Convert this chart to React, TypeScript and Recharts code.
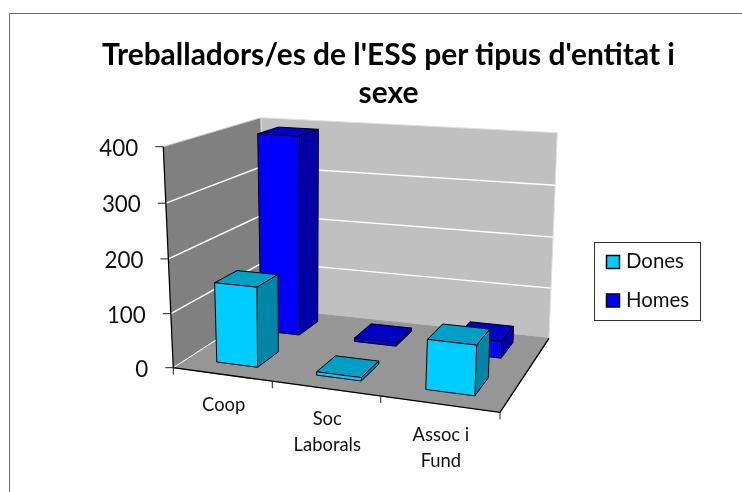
import { Bar, BarChart, Customized, XAxis, YAxis } from "recharts";

const categories = [["Coop"], ["Soc", "Laborals"], ["Assoc i", "Fund"]];
const dones = [148, 6, 88];
const homes = [390, 7, 32];
const yTicks = [0, 100, 200, 300, 400];
const legendNames = ["Dones", "Homes"];

const data = categories.map((lines, i) => ({
  name: lines.join(" "),
  dones: dones[i],
  homes: homes[i],
}));

const FONT = "Lato, 'Open Sans', sans-serif";
const CYAN = { front: "#00ccff", top: "#009fc6", side: "#0085a6" };
const BLUE = { front: "#0000ff", top: "#0000c6", side: "#0000a6" };

// the flat plot area recharts lays out; every shape is projected out of it
const PLOT = { left: 100, top: 100, width: 300, height: 300 };

// square to quad homography (Heckbert), corners named (across, depth)
function quadMap(p00: number[], p10: number[], p01: number[], p11: number[]) {
  const dx1 = p10[0] - p11[0];
  const dx2 = p01[0] - p11[0];
  const sx = p00[0] - p10[0] + p11[0] - p01[0];
  const dy1 = p10[1] - p11[1];
  const dy2 = p01[1] - p11[1];
  const sy = p00[1] - p10[1] + p11[1] - p01[1];
  const det = dx1 * dy2 - dx2 * dy1;
  const g = (sx * dy2 - dx2 * sy) / det;
  const h = (dx1 * sy - sx * dy1) / det;
  return (u: number, w: number) => {
    const d = g * u + h * w + 1;
    return [
      ((p10[0] - p00[0] + g * p10[0]) * u + (p01[0] - p00[0] + h * p01[0]) * w + p00[0]) / d,
      ((p10[1] - p00[1] + g * p10[1]) * u + (p01[1] - p00[1] + h * p01[1]) * w + p00[1]) / d,
    ];
  };
}

const floorAt = quadMap([173.3, 367.7], [500, 412.3], [265, 308.5], [549, 338.3]);
const ceilAt = quadMap([163.3, 146.7], [508, 167], [261, 117.7], [557.3, 132.7]);
const RISE = -0.03; // heights bunch up slightly towards the floor

function project(u: number, w: number, v: number) {
  const f = floorAt(u, w);
  const c = ceilAt(u, w);
  const t = (v * (1 + RISE)) / (1 + RISE * v);
  return [f[0] + (c[0] - f[0]) * t, f[1] + (c[1] - f[1]) * t];
}

const toU = (x: number) => (x - PLOT.left) / PLOT.width;
const toV = (y: number) => (PLOT.top + PLOT.height - y) / PLOT.height;

function poly(points: number[][]) {
  return points.map((p) => `${p[0].toFixed(1)},${p[1].toFixed(1)}`).join(" ");
}

function Face({ pts, fill, stroke = "#000" }: { pts: number[][]; fill: string; stroke?: string }) {
  return <polygon points={poly(pts)} fill={fill} stroke={stroke} strokeWidth={1} strokeLinejoin="round" />;
}

function makeColumn(w0: number, w1: number, du: number, col: typeof CYAN) {
  return function Column(props: any) {
    const { x, y, width, height } = props;
    const u0 = toU(x) + du;
    const u1 = toU(x + width) + du;
    const v1 = toV(y);
    const v0 = toV(y + height);
    return (
      <g>
        <Face pts={[project(u0, w1, v1), project(u1, w1, v1), project(u1, w0, v1), project(u0, w0, v1)]} fill={col.top} />
        <Face pts={[project(u1, w0, v0), project(u1, w1, v0), project(u1, w1, v1), project(u1, w0, v1)]} fill={col.side} />
        <Face pts={[project(u0, w0, v0), project(u1, w0, v0), project(u1, w0, v1), project(u0, w0, v1)]} fill={col.front} />
      </g>
    );
  };
}

function Walls() {
  const yMax = yTicks[yTicks.length - 1];
  return (
    <g>
      <Face pts={[project(0, 0, 0), project(0, 1, 0), project(0, 1, 1), project(0, 0, 1)]} fill="#808080" stroke="#c8c8c8" />
      <Face pts={[project(0, 1, 0), project(1, 1, 0), project(1, 1, 1), project(0, 1, 1)]} fill="#c0c0c0" stroke="#e0e0e0" />
      <Face pts={[project(0, 0, 0), project(1, 0, 0), project(1, 1, 0), project(0, 1, 0)]} fill="#969696" stroke="#969696" />
      {yTicks.slice(1, -1).map((t) => {
        const v = t / yMax;
        return <polyline key={t} points={poly([project(0, 0, v), project(0, 1, v), project(1, 1, v)])} fill="none" stroke="#fff" strokeWidth={1.4} />;
      })}
      <polyline points={poly([project(0, 0, 0), project(0, 1, 0)])} stroke="#fff" fill="none" />
      <polyline points={poly([project(0, 0, 1), project(0, 0, 0), project(1, 0, 0), project(1, 1, 0)])} fill="none" stroke="#000" strokeWidth={1.3} />
      {[0, 1 / 3, 2 / 3, 1].map((u) => {
        const p = project(u, 0, 0);
        return <line key={u} x1={p[0]} y1={p[1]} x2={p[0]} y2={p[1] + 7} stroke="#222" />;
      })}
    </g>
  );
}

function Frame() {
  const items = [CYAN, BLUE];
  return (
    <g fontFamily={FONT}>
      <polyline points="9.5,492 9.5,13.5 742,13.5" fill="none" stroke="#6e6e6e" />
      <text x={388.5} y={65} textAnchor="middle" fontSize={29.9} fontWeight={700} fill="#000">
        Treballadors/es de l'ESS per tipus d'entitat i
      </text>
      <text x={388.5} y={103} textAnchor="middle" fontSize={29.9} fontWeight={700} fill="#000">
        sexe
      </text>
      <rect x={594.5} y={242.5} width={106} height={78} fill="#fff" stroke="#333" />
      {legendNames.map((name, i) => (
        <g key={name}>
          <rect x={606.5} y={255.5 + i * 38.5} width={13} height={13} fill={items[i].front} stroke="#000" strokeWidth={1.5} />
          <text x={626} y={268 + i * 38.5} fontSize={20.4} fill="#111">
            {name}
          </text>
        </g>
      ))}
    </g>
  );
}

function YTick(props: any) {
  const { y, payload } = props;
  const p = project(0, 0, toV(y));
  return (
    <g>
      <line x1={p[0] - 8} y1={p[1]} x2={p[0]} y2={p[1]} stroke="#222" />
      <text x={p[0] - 25} y={p[1] + 9} textAnchor="end" fontFamily={FONT} fontSize={22.4} fill="#111">
        {payload.value}
      </text>
    </g>
  );
}

function XTick(props: any) {
  const { x, index } = props;
  const p = project(toU(x), 0, 0);
  const lines = categories[index];
  return (
    <text textAnchor="middle" fontFamily={FONT} fontSize={18.4} fill="#111">
      {lines.map((line, i) => (
        <tspan key={line} x={p[0] + 2} y={p[1] + 37 + i * 26}>
          {line}
        </tspan>
      ))}
    </text>
  );
}

export default function App() {
  return (
    <div style={{ position: "fixed", left: 0, top: 0, width: 742, height: 492 }}>
      <BarChart
        width={742}
        height={492}
        data={data}
        margin={{ left: PLOT.left - 1, top: PLOT.top, right: 742 - PLOT.left - PLOT.width, bottom: 492 - PLOT.top - PLOT.height - 1 }}
        barSize={42}
        barGap={-42}
      >
        <Customized component={Frame} />
        <Customized component={Walls} />
        <XAxis dataKey="name" axisLine={false} tickLine={false} tick={XTick} interval={0} height={1} />
        <YAxis domain={[0, 400]} ticks={yTicks} axisLine={false} tickLine={false} tick={YTick} width={1} />
        <Bar dataKey="homes" shape={makeColumn(0.64, 0.88, 0, BLUE)} isAnimationActive={false} />
        <Bar dataKey="dones" shape={makeColumn(0.14, 0.37, 0.005, CYAN)} isAnimationActive={false} />
      </BarChart>
    </div>
  );
}
